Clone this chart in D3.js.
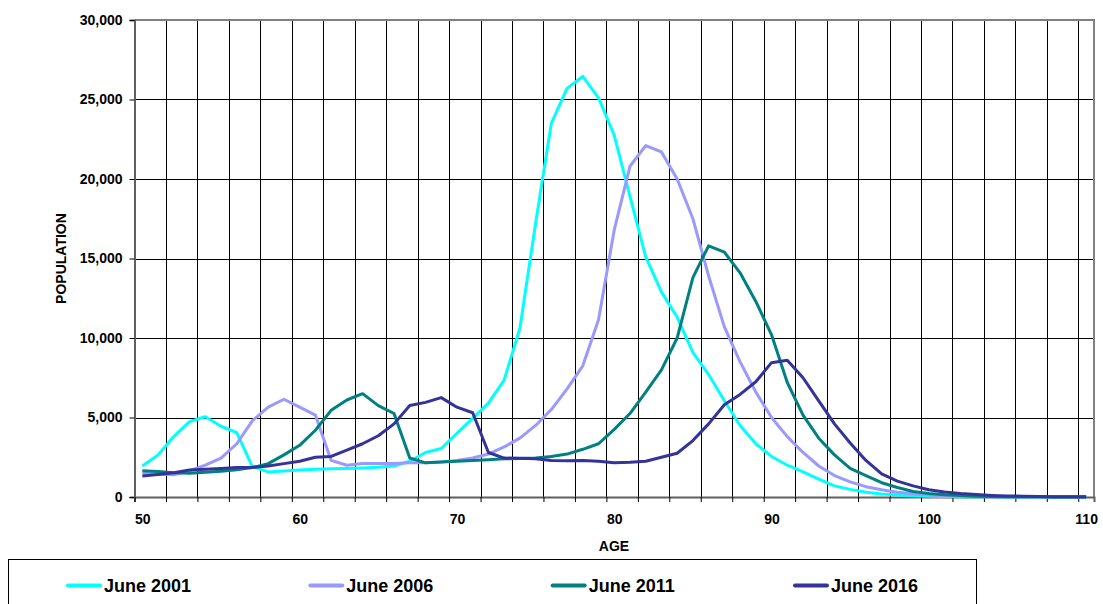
<!DOCTYPE html>
<html>
<head>
<meta charset="utf-8">
<script src="https://cdn.jsdelivr.net/npm/d3@7"></script>
<style>
  body { margin: 0; background: #fff; }
  svg { display: block; font-family: "Liberation Sans", Arial, sans-serif; font-weight: bold; }
</style>
</head>
<body>
<svg id="chart" width="1103" height="604"></svg>
<script>
// population by single year of age, 50..110
const ages = [50, 51, 52, 53, 54, 55, 56, 57, 58, 59, 60, 61, 62, 63, 64, 65, 66, 67, 68, 69,
    70, 71, 72, 73, 74, 75, 76, 77, 78, 79, 80, 81, 82, 83, 84, 85, 86, 87, 88, 89,
    90, 91, 92, 93, 94, 95, 96, 97, 98, 99, 100, 101, 102, 103, 104, 105, 106, 107, 108, 109, 110];

const june2001 = [1950, 2640, 3800, 4740, 5050, 4450, 4050, 1900, 1580, 1640, 1700, 1740, 1780, 1800, 1830, 1870, 1950, 2250, 2800, 3050,
    4000, 4950, 5900, 7350, 10600, 17200, 23500, 25700, 26450, 25100, 22750, 18900, 15100, 12900, 11300, 9100, 7700, 6050, 4500, 3350,
    2550, 2000, 1580, 1120, 700, 480, 300, 190, 120, 80, 50, 30, 20, 12, 8, 5, 3, 2, 1, 1, 0];

const june2006 = [1500, 1450, 1400, 1650, 2000, 2450, 3350, 4800, 5650, 6150, 5650, 5150, 2300, 2000, 2100, 2100, 2100, 2150, 2150, 2200,
    2300, 2450, 2700, 3150, 3700, 4500, 5500, 6800, 8250, 11150, 16800, 20800, 22100, 21700, 20000, 17500, 13900, 10700, 8500, 6600,
    5000, 3800, 2800, 1950, 1350, 950, 650, 450, 300, 200, 120, 80, 50, 30, 20, 12, 8, 5, 3, 2, 1];

const june2011 = [1650, 1600, 1520, 1500, 1550, 1620, 1720, 1850, 2100, 2650, 3250, 4200, 5450, 6100, 6500, 5750, 5250, 2450, 2150, 2200,
    2250, 2300, 2350, 2400, 2420, 2450, 2550, 2700, 3000, 3350, 4250, 5250, 6600, 8000, 10000, 13800, 15800, 15400, 14100, 12300,
    10200, 7200, 5150, 3700, 2650, 1800, 1350, 900, 600, 350, 220, 140, 90, 55, 35, 20, 12, 8, 5, 3, 2];

const june2016 = [1320, 1420, 1530, 1700, 1740, 1800, 1850, 1870, 1950, 2100, 2250, 2500, 2550, 2950, 3350, 3850, 4600, 5750, 5950, 6250,
    5650, 5300, 2800, 2450, 2430, 2400, 2300, 2280, 2300, 2250, 2150, 2180, 2250, 2500, 2750, 3550, 4600, 5800, 6450, 7250,
    8450, 8600, 7500, 6050, 4600, 3400, 2300, 1450, 1000, 700, 460, 320, 220, 150, 100, 70, 50, 30, 20, 12, 8];

const seriesNames = ["June 2001", "June 2006", "June 2011", "June 2016"];
const seriesValues = [june2001, june2006, june2011, june2016];
const colors = ["#00ffff", "#9999ff", "#008080", "#333399"];

const yTicks = [0, 5000, 10000, 15000, 20000, 25000, 30000];
const xLabels = [50, 60, 70, 80, 90, 100, 110];

const svg = d3.select("#chart");

const plotLeft = 134.5, plotRight = 1094, plotTop = 20, plotBottom = 497;

// category axis: each age sits in the middle of its slot
const x = d3.scaleLinear().domain([49.5, 110.5]).range([plotLeft, plotRight]);
const y = d3.scaleLinear().domain([0, 30000]).range([plotBottom, plotTop]);

const slotEdges = d3.range(49.5, 110.5, 2);

// gridlines
const grid = svg.append("g");
grid.selectAll("line.v")
    .data(slotEdges.slice(1))
    .enter()
    .append("line")
    .attr("x1", d => Math.round(x(d)) + 0.5)
    .attr("x2", d => Math.round(x(d)) + 0.5)
    .attr("y1", plotTop)
    .attr("y2", plotBottom)
    .attr("stroke", "#000")
    .attr("stroke-width", 1);

grid.selectAll("line.h")
    .data(yTicks.slice(1, -1))
    .enter()
    .append("line")
    .attr("x1", plotLeft)
    .attr("x2", plotRight)
    .attr("y1", d => Math.round(y(d)) + 0.5)
    .attr("y2", d => Math.round(y(d)) + 0.5)
    .attr("stroke", "#000")
    .attr("stroke-width", 1);

// plot border (top and right)
svg.append("path")
    .attr("d", `M${plotLeft},${plotTop}H${plotRight}V${plotBottom}`)
    .attr("fill", "none")
    .attr("stroke", "#808080")
    .attr("stroke-width", 2);

// y axis
const yAxis = svg.append("g")
    .attr("transform", `translate(${plotLeft},0)`)
    .call(d3.axisLeft(y).tickValues(yTicks).tickSize(5).tickPadding(7).tickFormat(d3.format(",")));
yAxis.select(".domain").attr("stroke", "#606060").attr("stroke-width", 2);
yAxis.selectAll(".tick line").attr("stroke", "#000");
yAxis.selectAll("text")
    .style("font-size", "14px")
    .style("font-family", "'Liberation Sans', Arial, sans-serif")
    .style("font-weight", "bold")
    .attr("fill", "#000");

// x axis ticks every two ages
const xAxis = svg.append("g")
    .attr("transform", `translate(0,${plotBottom})`)
    .call(d3.axisBottom(x).tickValues(slotEdges).tickSize(5).tickFormat(""));
xAxis.select(".domain").attr("stroke", "#606060").attr("stroke-width", 2);
xAxis.selectAll(".tick line").attr("stroke", "#000");

const xLab = svg.append("g")
    .attr("transform", `translate(0,${plotBottom})`)
    .call(d3.axisBottom(x).tickValues(xLabels).tickSize(0).tickPadding(17));
xLab.select(".domain").remove();
xLab.selectAll("text")
    .style("font-size", "14px")
    .style("font-family", "'Liberation Sans', Arial, sans-serif")
    .style("font-weight", "bold")
    .attr("fill", "#000");

// axis titles
svg.append("text")
    .attr("x", 614)
    .attr("y", 551)
    .attr("text-anchor", "middle")
    .style("font-size", "14px")
    .text("AGE");

svg.append("text")
    .attr("transform", `translate(66,${(plotTop + plotBottom) / 2}) rotate(-90)`)
    .attr("text-anchor", "middle")
    .style("font-size", "14px")
    .text("POPULATION");

// series
const line = d3.line()
    .x((d, i) => x(ages[i]))
    .y(d => y(d));

seriesValues.forEach((vals, idx) => {
    svg.append("path")
        .datum(vals)
        .attr("d", line)
        .attr("fill", "none")
        .attr("stroke", colors[idx])
        .attr("stroke-width", 3)
        .attr("stroke-linejoin", "round");
});

// legend
svg.append("rect")
    .attr("x", 8.5)
    .attr("y", 559.5)
    .attr("width", 968)
    .attr("height", 60)
    .attr("fill", "#fff")
    .attr("stroke", "#000")
    .attr("stroke-width", 1);

const legendX = d3.scaleLinear().domain([0, 3]).range([68, 795]);

seriesNames.forEach((name, idx) => {
    const lx = legendX(idx);
    svg.append("line")
        .attr("x1", lx)
        .attr("x2", lx + 32)
        .attr("y1", 585.5)
        .attr("y2", 585.5)
        .attr("stroke", colors[idx])
        .attr("stroke-width", 4)
        .attr("stroke-linecap", "round");
    svg.append("text")
        .attr("x", lx + 36)
        .attr("y", 592)
        .style("font-size", "18px")
        .text(name);
});
</script>
</body>
</html>
